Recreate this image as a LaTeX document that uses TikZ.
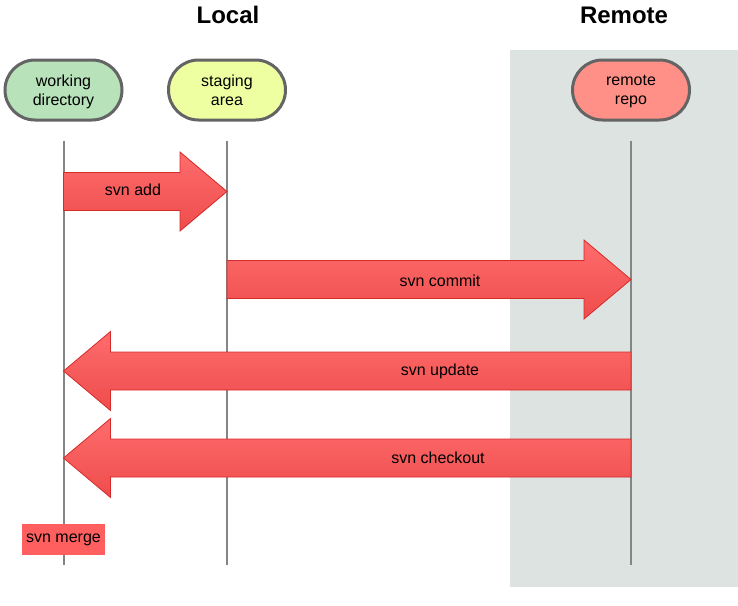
\documentclass[tikz,border=0pt]{standalone}
\usepackage{fontspec}
\setmainfont{Liberation Sans}
\usetikzlibrary{positioning,calc,shapes.misc}
\definecolor{wdgreen}{HTML}{B8E2BA}
\definecolor{sayellow}{HTML}{EEFFA2}
\definecolor{rrred}{HTML}{FF9088}
\definecolor{remotegray}{HTML}{DDE3E0}
\definecolor{arrowlight}{HTML}{FF6C6C}
\definecolor{arrowdark}{HTML}{EE4C4C}
\definecolor{arrowedge}{HTML}{D62A2A}
\definecolor{boxedge}{HTML}{646464}
\definecolor{lifegray}{HTML}{858585}
\definecolor{mergered}{HTML}{FF5F5F}

% fat arrow from tail to tip (same height)
\newcommand{\fatarrow}[2]{%
  \path[fatarrow] let \p1=(#1), \p2=(#2), \n1={ifthenelse(\x2>\x1,1,-1)} in
    (\x1,\y1+19pt) -- (\x2-\n1*47pt,\y1+19pt) -- (\x2-\n1*47pt,\y1+39.5pt)
    -- (\x2,\y1) -- (\x2-\n1*47pt,\y1-39.5pt) -- (\x2-\n1*47pt,\y1-19pt)
    -- (\x1,\y1-19pt) -- cycle;}

\begin{document}
\begin{tikzpicture}[
  x=1pt, y=-1pt,
  font=\fontsize{16}{19.5}\selectfont,
  place/.style={rounded rectangle, rounded rectangle arc length=180,
    draw=boxedge, line width=3pt, minimum width=117pt, minimum height=60pt,
    inner sep=0pt, align=center, text depth=0pt},
  lifeline/.style={lifegray, line width=2pt},
  fatarrow/.style={draw=arrowedge, line width=0.8pt, top color=arrowlight,
    bottom color=arrowdark},
  title/.style={font=\fontsize{24}{28}\selectfont\bfseries}
]
\useasboundingbox (0,0) rectangle (738,605);

% Remote-Bereich
\fill[remotegray] (510,50) rectangle (738,587);

% Ueberschriften
\node[title] (local) at (228,15) {Local};
\node[title] (remote) at (624,15) {Remote};

% Orte
\node[place, fill=wdgreen] (wd) at (63.5,90) {working\\directory};
\node[place, fill=sayellow] (sa) at (227,90) {staging\\area};
\node[place, fill=rrred] (rr) at (631,90) {remote\\repo};

% Lebenslinien
\foreach \n in {wd,sa,rr}
  \draw[lifeline] ($(\n.south)+(0,19)$) -- ($(\n.south)+(0,443)$);

% Zeilen
\coordinate (row1) at (0,191.5);
\coordinate (row2) at (0,279.5);
\coordinate (row3) at (0,371);
\coordinate (row4) at (0,458);

% Pfeile
\fatarrow{wd |- row1}{sa |- row1}
\fatarrow{sa |- row2}{rr |- row2}
\fatarrow{rr |- row3}{wd |- row3}
\fatarrow{rr |- row4}{wd |- row4}

\node (add) at (133,190) {svn add};
\node (commit) at (440,281) {svn commit};
\node (update) at (440,371) {svn update};
\node (checkout) at (438,458) {svn checkout};

\node[fill=mergered, minimum width=83pt, minimum height=31pt, inner sep=0pt]
  (merge) at (63.5,539.5) {svn merge};
\end{tikzpicture}
\end{document}
